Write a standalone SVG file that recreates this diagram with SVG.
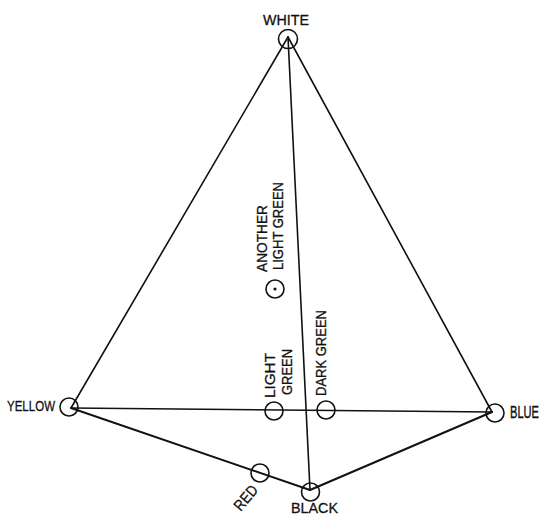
<svg xmlns="http://www.w3.org/2000/svg" width="545" height="516" viewBox="0 0 545 516">
<style>
.ln{stroke:#111;stroke-width:1.6;fill:none;stroke-linecap:round}
.th{stroke-width:2}
.c{stroke:#111;stroke-width:1.6;fill:none}
.t{font-family:"Liberation Sans","DejaVu Sans",sans-serif;font-size:15.5px;fill:#111;stroke:#111;stroke-width:0.3}
</style>
<rect width="545" height="516" fill="#fff"/>
<g id="connectors">
<line class="ln" x1="288" y1="37" x2="71" y2="408"/>
<line class="ln" x1="288" y1="37" x2="492" y2="412"/>
<line class="ln" x1="288" y1="37" x2="310" y2="490"/>
<line class="ln" x1="71" y1="408" x2="492" y2="412"/>
<line class="ln th" x1="71" y1="408" x2="310" y2="490"/>
<line class="ln th" x1="310" y1="490" x2="492" y2="412"/>
</g>
<g id="white"><circle class="c" cx="288" cy="39" r="9.5"/><text class="t" x="286" y="25" text-anchor="middle" textLength="46" lengthAdjust="spacingAndGlyphs">WHITE</text></g>
<g id="yellow"><circle class="c" cx="69" cy="407" r="9"/><text class="t" x="7" y="411" textLength="48" lengthAdjust="spacingAndGlyphs">YELLOW</text></g>
<g id="blue"><circle class="c" cx="495" cy="413" r="9"/><text class="t" transform="translate(510,418) scale(1,1.3)" style="font-size:12px" textLength="29" lengthAdjust="spacingAndGlyphs">BLUE</text></g>
<g id="black"><circle class="c" cx="310.5" cy="492" r="9"/><text class="t" x="291" y="513" textLength="47" lengthAdjust="spacingAndGlyphs">BLACK</text></g>
<g id="red"><circle class="c" cx="260" cy="473" r="9"/><text class="t" transform="translate(249.8,501.2) rotate(-50)" x="0" y="0" text-anchor="middle" textLength="28" lengthAdjust="spacingAndGlyphs">RED</text></g>
<g id="light-green"><circle class="c" cx="274" cy="411" r="9"/><text class="t" transform="translate(275,398) rotate(-90)" textLength="45" lengthAdjust="spacingAndGlyphs">LIGHT</text><text class="t" transform="translate(292,395) rotate(-90)" textLength="46" lengthAdjust="spacingAndGlyphs">GREEN</text></g>
<g id="dark-green"><circle class="c" cx="326" cy="410" r="9"/><text class="t" transform="translate(326,396) rotate(-90)" textLength="86" lengthAdjust="spacingAndGlyphs">DARK GREEN</text></g>
<g id="another-light-green"><circle class="c" cx="275" cy="289" r="9"/><circle cx="275" cy="289" r="1.6" fill="#111"/><text class="t" transform="translate(267,272) rotate(-90)" textLength="67" lengthAdjust="spacingAndGlyphs">ANOTHER</text><text class="t" transform="translate(283,270) rotate(-90)" textLength="88" lengthAdjust="spacingAndGlyphs">LIGHT GREEN</text></g>
</svg>
